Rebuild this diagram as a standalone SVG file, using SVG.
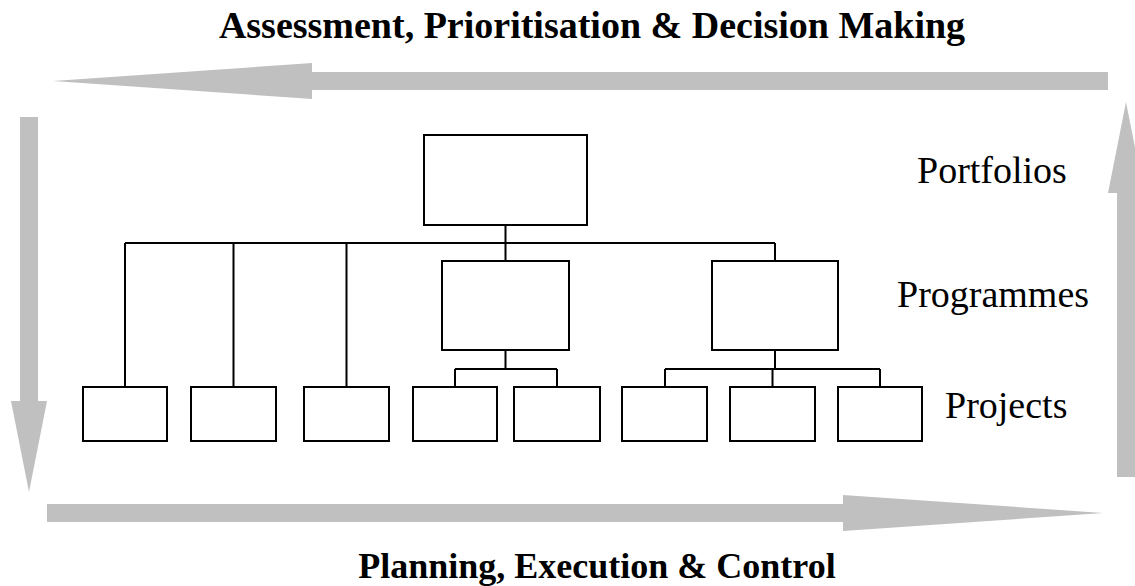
<svg xmlns="http://www.w3.org/2000/svg" width="1135" height="586" viewBox="0 0 1135 586">
<style>
.arrow{fill:#c0c0c0;stroke:none}
.box{fill:#fff;stroke:#000;stroke-width:2}
.conn{fill:none;stroke:#000;stroke-width:2}
.title{font-family:"Liberation Serif","Times New Roman",serif;font-weight:bold;fill:#000;text-anchor:middle}
.lbl{font-family:"Liberation Serif","Times New Roman",serif;font-size:38px;fill:#000}
</style>
<rect width="1135" height="586" fill="#fff"/>
<g id="cycle-arrows">
<polygon class="arrow" points="53,81 312,63 312,72 1108,72 1108,90 312,90 312,99"/>
<polygon class="arrow" points="20,117 38,117 38,401 47,401 29,492 11,401 20,401"/>
<polygon class="arrow" points="47,504 843,504 843,495 1103,513 843,531 843,522 47,522"/>
<polygon class="arrow" points="1117,477 1135,477 1135,193 1144,193 1126,102 1108,193 1117,193"/>
</g>
<text class="title" x="592" y="38" font-size="38">Assessment, Prioritisation &amp; Decision Making</text>
<text class="title" x="597" y="578" font-size="36">Planning, Execution &amp; Control</text>
<g id="connectors">
<path class="conn" d="M505.5,225 V243 M125,243 H775 M125,243 V387 M233.5,243 V387 M346.5,243 V387 M505.5,243 V261 M775,243 V261"/>
<path class="conn" d="M505.5,350 V369 M455,369 H557 M455,369 V387 M557,369 V387"/>
<path class="conn" d="M775,350 V369 M665,369 H880 M665,369 V387 M772.5,369 V387 M880,369 V387"/>
</g>
<g id="portfolio"><rect class="box" x="424" y="135" width="163" height="90"/></g>
<g id="programme-1"><rect class="box" x="442" y="261" width="127" height="89"/></g>
<g id="programme-2"><rect class="box" x="712" y="261" width="126" height="89"/></g>
<g id="project-1"><rect class="box" x="83" y="387" width="84" height="54"/></g>
<g id="project-2"><rect class="box" x="191" y="387" width="85" height="54"/></g>
<g id="project-3"><rect class="box" x="304" y="387" width="85" height="54"/></g>
<g id="project-4"><rect class="box" x="413" y="387" width="84" height="54"/></g>
<g id="project-5"><rect class="box" x="514" y="387" width="86" height="54"/></g>
<g id="project-6"><rect class="box" x="622" y="387" width="85" height="54"/></g>
<g id="project-7"><rect class="box" x="730" y="387" width="85" height="54"/></g>
<g id="project-8"><rect class="box" x="838" y="387" width="84" height="54"/></g>
<text class="lbl" x="917" y="183">Portfolios</text>
<text class="lbl" x="897" y="307">Programmes</text>
<text class="lbl" x="945" y="418">Projects</text>
</svg>
